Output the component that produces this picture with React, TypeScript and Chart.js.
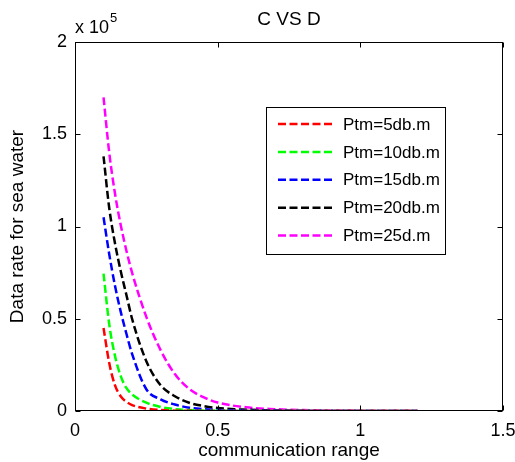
import React, { useEffect, useRef } from "react";
import { Chart, registerables } from "chart.js";

Chart.register(...registerables);

// communication range (x)
const rangeValues = [0.1, 0.12, 0.14, 0.16, 0.18, 0.2, 0.25, 0.3, 0.35, 0.4, 0.45, 0.5, 0.6, 0.7, 0.8, 0.9, 1.0, 1.1, 1.2];

// data rate for sea water, in units of 10^5
const ptm5 = [0.45, 0.26, 0.14, 0.08, 0.05, 0.032, 0.013, 0.005, 0.002, 0.001, 0.0005, 0, 0, 0, 0, 0, 0, 0, 0];
const ptm10 = [0.745, 0.47, 0.3, 0.19, 0.125, 0.09, 0.045, 0.022, 0.01, 0.005, 0.002, 0.001, 0, 0, 0, 0, 0, 0, 0];
const ptm15 = [1.05, 0.85, 0.68, 0.54, 0.42, 0.31, 0.118, 0.063, 0.035, 0.018, 0.01, 0.006, 0.002, 0.001, 0, 0, 0, 0, 0];
const ptm20 = [1.38, 1.1, 0.91, 0.76, 0.63, 0.5, 0.27, 0.14, 0.08, 0.045, 0.027, 0.016, 0.007, 0.003, 0.001, 0, 0, 0, 0];
const ptm25 = [1.7, 1.4, 1.18, 1.01, 0.87, 0.75, 0.51, 0.33, 0.2, 0.12, 0.075, 0.046, 0.02, 0.01, 0.005, 0.003, 0.002, 0.001, 0.001];

const seriesLabels = ["Ptm=5db.m", "Ptm=10db.m", "Ptm=15db.m", "Ptm=20db.m", "Ptm=25d.m"];
const seriesColors = ["#ff0000", "#00ff00", "#0000ff", "#000000", "#ff00ff"];
const seriesValues = [ptm5, ptm10, ptm15, ptm20, ptm25];

const xTicks = [0, 0.5, 1, 1.5];
const yTicks = [0, 0.5, 1, 1.5, 2];

const FONT = '"Liberation Sans", Arial, Helvetica, sans-serif';
const DASH = [8, 3.5];

const matlabFrame = {
  id: "matlabFrame",
  afterDatasetsDraw(chart: any) {
    const { ctx, chartArea: a, scales } = chart;
    const L = Math.round(a.left) + 0.5;
    const R = Math.round(a.right) - 0.5;
    const T = Math.round(a.top) + 0.5;
    const B = Math.round(a.bottom) - 0.5;
    ctx.save();
    ctx.strokeStyle = "#000";
    ctx.lineWidth = 1;
    ctx.setLineDash([]);
    ctx.strokeRect(L, T, R - L, B - T);
    const tl = 5;
    ctx.beginPath();
    xTicks.forEach((v) => {
      const px = Math.round(scales.x.getPixelForValue(v)) + 0.5;
      ctx.moveTo(px, B);
      ctx.lineTo(px, B - tl);
      ctx.moveTo(px, T);
      ctx.lineTo(px, T + tl);
    });
    yTicks.forEach((v) => {
      const py = Math.round(scales.y.getPixelForValue(v)) + 0.5;
      ctx.moveTo(L, py);
      ctx.lineTo(L + tl, py);
      ctx.moveTo(R, py);
      ctx.lineTo(R - tl, py);
    });
    ctx.stroke();

    // exponent label
    ctx.fillStyle = "#000";
    ctx.textBaseline = "alphabetic";
    ctx.textAlign = "left";
    ctx.font = `18px ${FONT}`;
    ctx.fillText("x 10", a.left, a.top - 9);
    const w = ctx.measureText("x 10").width;
    ctx.font = `13px ${FONT}`;
    ctx.fillText("5", a.left + w + 1, a.top - 20);

    // legend
    const lx = 266, ly = 107, lw = 179, lh = 147;
    ctx.fillStyle = "#fff";
    ctx.fillRect(lx, ly, lw, lh);
    ctx.strokeStyle = "#000";
    ctx.lineWidth = 1;
    ctx.strokeRect(lx + 0.5, ly + 0.5, lw, lh);
    ctx.font = `17px ${FONT}`;
    ctx.textBaseline = "middle";
    seriesLabels.forEach((lab, i) => {
      const y = 124 + i * 27.9;
      ctx.strokeStyle = seriesColors[i];
      ctx.lineWidth = 2.5;
      ctx.setLineDash(DASH);
      ctx.beginPath();
      ctx.moveTo(278, y);
      ctx.lineTo(334, y);
      ctx.stroke();
      ctx.setLineDash([]);
      ctx.fillStyle = "#000";
      ctx.fillText(lab, 343, y + 1);
    });
    ctx.restore();
  },
};

export default function App() {
  const ref = useRef<HTMLCanvasElement | null>(null);
  useEffect(() => {
    if (!ref.current) return;
    const chart = new Chart(ref.current, {
      type: "line",
      data: {
        datasets: seriesValues.map((vals, i) => ({
          label: seriesLabels[i],
          data: vals.map((v, j) => ({ x: rangeValues[j], y: v })),
          borderColor: seriesColors[i],
          backgroundColor: seriesColors[i],
          borderWidth: 2.5,
          borderDash: DASH,
          pointRadius: 0,
          cubicInterpolationMode: "monotone" as const,
          fill: false,
        })),
      },
      options: {
        responsive: false,
        animation: false,
        layout: { padding: { left: 0, right: 12, top: 0, bottom: 0 } },
        plugins: {
          legend: { display: false },
          tooltip: { enabled: false },
          title: {
            display: true,
            text: "C VS D",
            fullSize: false,
            color: "#000",
            font: { family: FONT, size: 19, weight: "normal" as const },
            padding: { top: 8.1, bottom: 11.1 },
          },
        },
        scales: {
          x: {
            type: "linear",
            min: 0,
            max: 1.5,
            grid: { display: false, drawTicks: false },
            border: { display: false },
            ticks: {
              stepSize: 0.5,
              color: "#000",
              padding: 9,
              maxRotation: 0,
              font: { family: FONT, size: 18 },
              callback: (v: any) => String(v),
            },
            title: {
              display: true,
              text: "communication range",
              color: "#000",
              font: { family: FONT, size: 19 },
              padding: { top: 0, bottom: 0 },
            },
            afterFit: (s: any) => {
              s.height = 51;
              s.paddingLeft = 0;
              s.paddingRight = 0;
            },
          },
          y: {
            type: "linear",
            min: 0,
            max: 2,
            grid: { display: false, drawTicks: false },
            border: { display: false },
            ticks: {
              stepSize: 0.5,
              color: "#000",
              padding: 8,
              font: { family: FONT, size: 18 },
              callback: (v: any) => String(v),
            },
            title: {
              display: true,
              text: "Data rate for sea water",
              color: "#000",
              font: { family: FONT, size: 19 },
              padding: { top: 6, bottom: 0 },
            },
            afterFit: (s: any) => {
              s.width = 75;
              s.paddingTop = 0;
              s.paddingBottom = 0;
            },
          },
        },
      },
      plugins: [matlabFrame],
    });
    return () => chart.destroy();
  }, []);
  return (
    <div style={{ position: "absolute", left: 0, top: 0, width: 515, height: 462, background: "#fff" }}>
      <canvas ref={ref} width={515} height={462} />
    </div>
  );
}
